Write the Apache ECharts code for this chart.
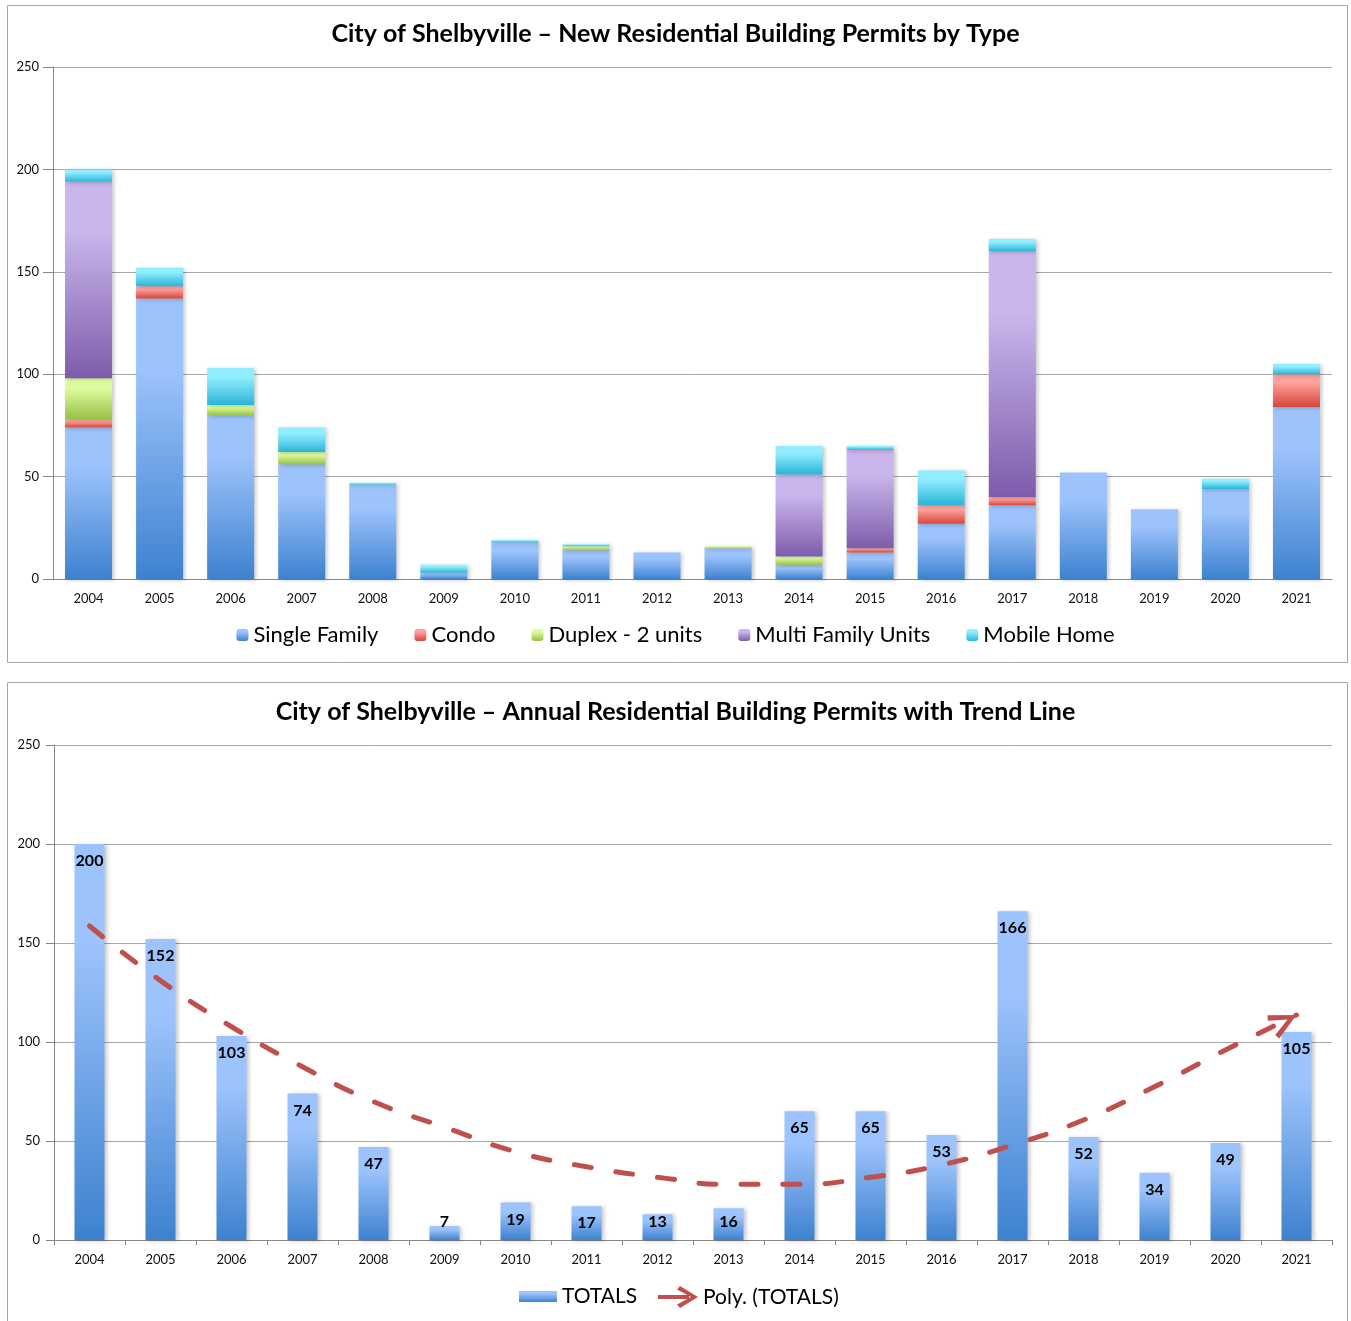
<!DOCTYPE html>
<html>
<head>
<meta charset="utf-8">
<script src="https://cdn.jsdelivr.net/npm/echarts@6/dist/echarts.min.js"></script>
<style>
html,body{margin:0;padding:0;background:#fff;}
#c{width:1351px;height:1321px;}
</style>
</head>
<body>
<div id="c"></div>
<script>
const years = ['2004','2005','2006','2007','2008','2009','2010','2011','2012','2013','2014','2015','2016','2017','2018','2019','2020','2021'];
const singleFamily = [74,137,80,56,46,3,18,14,13,15,7,13,27,36,52,34,44,84];
const condo        = [4,6,0,0,0,0,0,0,0,0,0,2,9,4,0,0,0,16];
const duplex       = [20,0,5,6,0,0,0,2,0,1,4,0,0,0,0,0,0,0];
const multiFamily  = [96,0,0,0,0,0,0,0,0,0,40,48,0,120,0,0,0,0];
const mobileHome   = [6,9,18,12,1,4,1,1,0,0,14,2,17,6,0,0,5,5];
const totals       = [200,152,103,74,47,7,19,17,13,16,65,65,53,166,52,34,49,105];
// trend line at each year
const trend        = [158.6,131,107.7,87.5,69.9,57,44.6,37,31.7,28.1,28.1,31.7,37.9,48,60.6,77.4,96,113.6];
const yTicks = [0,50,100,150,200,250];

const FONT = 'Lato';
function grad(top, bottom){
  return new echarts.graphic.LinearGradient(0,0,0,1,[
    {offset:0,color:top},{offset:0.25,color:top},{offset:1,color:bottom}]);
}
const C = {
  sf: grad('#9DC3FC','#3D82CF'),
  condo: grad('#FFA19C','#D6463C'),
  duplex: grad('#DDFB9C','#98C149'),
  multi: grad('#CAB6EC','#7D5CAA'),
  mobile: grad('#90EEFF','#2BB4D7')
};
const shadow = {shadowBlur:4, shadowOffsetX:2, shadowOffsetY:1, shadowColor:'rgba(0,0,0,0.22)'};

function stackSeries(name, data, color){
  return {name, type:'bar', stack:'t', xAxisIndex:0, yAxisIndex:0, barWidth:47,
    data, itemStyle:Object.assign({color}, shadow)};
}

const totalsData = totals.map(v => v < 17
  ? {value:v, label:{position:'insideBottom', distance:10}}
  : {value:v});

const arrowDir = 27; // degrees above horizontal at the end of the trend
const trendData = trend.map((v,i) => i === trend.length-1
  ? {value:v, symbol:'path://M13,0 L26,26 L21,28 L13,10 L5,28 L0,26 Z', symbolSize:[26,28],
     symbolRotate: -(90-arrowDir),
     symbolOffset:[-14*Math.cos(arrowDir*Math.PI/180), 14*Math.sin(arrowDir*Math.PI/180)],
     itemStyle:{color:'#C0504D', opacity:1}}
  : {value:v});

const axisCommon = {
  axisLine:{show:true, lineStyle:{color:'#868686', width:1}},
  axisLabel:{color:'#111', fontFamily:FONT, fontSize:13, margin:13},
};

const option = {
  animation:false,
  textStyle:{fontFamily:FONT},
  title:[
    {text:'City of Shelbyville – New Residential Building Permits by Type', left:'center', top:16,
     textStyle:{fontFamily:FONT, fontWeight:'bold', fontSize:25, color:'#000'}},
    {text:'City of Shelbyville – Annual Residential Building Permits with Trend Line', left:'center', top:694,
     textStyle:{fontFamily:FONT, fontWeight:'bold', fontSize:25, color:'#000'}}
  ],
  graphic:[
    {type:'rect', shape:{x:7.5,y:5.5,width:1340,height:657}, style:{fill:'none', stroke:'#A6A6A6', lineWidth:1}, silent:true, z:-10},
    {type:'rect', shape:{x:7.5,y:682.5,width:1340,height:660}, style:{fill:'none', stroke:'#A6A6A6', lineWidth:1}, silent:true, z:-10}
  ],
  legend:[
    {top:619, left:'center', itemWidth:12, itemHeight:12, itemGap:36,
     textStyle:{fontFamily:FONT, fontSize:22, color:'#000'},
     data:['Single Family','Condo','Duplex - 2 units','Multi Family Units','Mobile Home']},
    {top:1286, left:519, padding:0, itemWidth:38, itemHeight:11, itemGap:0,
     textStyle:{fontFamily:FONT, fontSize:21, color:'#000'},
     data:[{name:'TOTALS', icon:'rect'}]},
    {top:1286, left:658, padding:0, itemWidth:40, itemHeight:22, itemGap:0,
     textStyle:{fontFamily:FONT, fontSize:21, color:'#000'},
     data:[{name:'Poly. (TOTALS)', icon:'path://M0,9 L31,9 L31,13 L0,13 Z M22,0 L40,11 L22,22 L19,18.5 L33,11 L19,3.5 Z',
            itemStyle:{color:'#C0504D'}}]}
  ],
  grid:[
    {left:53, top:67, width:1279, height:512},
    {left:54, top:745, width:1278, height:495}
  ],
  xAxis:[
    Object.assign({type:'category', gridIndex:0, data:years, axisTick:{show:false}}, axisCommon),
    Object.assign({type:'category', gridIndex:1, data:years,
      axisTick:{show:true, length:5, lineStyle:{color:'#868686'}}}, axisCommon)
  ],
  yAxis:[
    Object.assign({type:'value', gridIndex:0, min:yTicks[0], max:yTicks[yTicks.length-1], interval:50,
      axisTick:{show:true, length:10, lineStyle:{color:'#868686'}},
      splitLine:{show:true, lineStyle:{color:'#A6A6A6', width:1}}}, axisCommon,
      {axisLabel:{color:'#111', fontFamily:FONT, fontSize:13, margin:14}}),
    Object.assign({type:'value', gridIndex:1, min:yTicks[0], max:yTicks[yTicks.length-1], interval:50,
      axisTick:{show:true, length:8, lineStyle:{color:'#868686'}},
      splitLine:{show:true, lineStyle:{color:'#A6A6A6', width:1}}}, axisCommon,
      {axisLabel:{color:'#111', fontFamily:FONT, fontSize:13, margin:14}})
  ],
  series:[
    stackSeries('Single Family', singleFamily, C.sf),
    stackSeries('Condo', condo, C.condo),
    stackSeries('Duplex - 2 units', duplex, C.duplex),
    stackSeries('Multi Family Units', multiFamily, C.multi),
    stackSeries('Mobile Home', mobileHome, C.mobile),
    {name:'TOTALS', type:'bar', xAxisIndex:1, yAxisIndex:1, barWidth:30,
     data:totalsData,
     itemStyle:Object.assign({color:grad('#9DC3FC','#3D82CF')}, shadow),
     label:{show:true, position:'insideTop', distance:9, color:'#000',
       fontFamily:FONT, fontWeight:'bold', fontSize:16}},
    {name:'Poly. (TOTALS)', type:'line', xAxisIndex:1, yAxisIndex:1, smooth:true,
     data:trendData, symbol:'none', showSymbol:true, z:5,
     itemStyle:{color:'#C0504D'},
     lineStyle:{color:'#C0504D', width:5, type:[17,25], cap:'round'}}
  ]
};
const chart = echarts.init(document.getElementById('c'), null, {renderer:'canvas'});
chart.setOption(option);
</script>
</body>
</html>
